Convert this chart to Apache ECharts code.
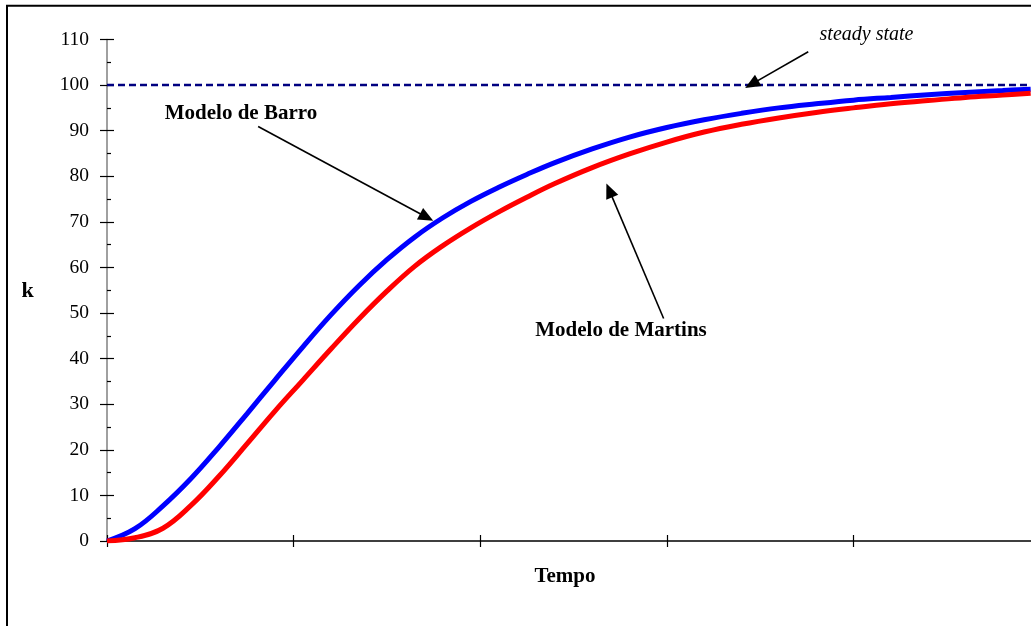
<!DOCTYPE html>
<html>
<head>
<meta charset="utf-8">
<script src="https://cdn.jsdelivr.net/npm/echarts@6/dist/echarts.min.js"></script>
<style>html,body{margin:0;padding:0;background:#fff;}#c{width:1031px;height:626px;}</style>
</head>
<body>
<div id="c"></div>
<script>
// Time (x, no tick labels in the original) and capital k
const tempo  = [0, 0.15, 0.3, 0.45, 0.6, 0.75, 0.9, 1.05, 1.2, 1.35, 1.5, 1.65, 1.8, 1.95, 2.1, 2.25, 2.4, 2.6, 2.8, 3.0, 3.2, 3.4, 3.6, 3.8, 4.0, 4.2, 4.4, 4.6, 4.8, 4.95];
const barro  = [0, 2.7, 7.7, 13.7, 20.6, 27.9, 35.3, 42.6, 49.6, 56.0, 61.7, 66.7, 70.9, 74.5, 77.6, 80.4, 83.0, 86.0, 88.6, 90.7, 92.4, 93.8, 95.0, 95.9, 96.7, 97.3, 97.9, 98.4, 98.8, 99.1];
const martins = [0, 0.7, 2.8, 7.8, 14.2, 21.3, 28.5, 35.3, 42.1, 48.7, 54.8, 60.3, 64.8, 68.7, 72.2, 75.4, 78.4, 81.9, 84.9, 87.5, 89.7, 91.4, 92.8, 94.0, 95.0, 95.9, 96.6, 97.3, 97.8, 98.2];
const steadyX = [0, 4.933];
const steadyValue = 100;
const yTicks = {min: 0, max: 110, interval: 10};
const xTicks = {min: 0, max: 5, interval: 1};

const pairs = (xs, ys) => xs.map((x, i) => [x, ys[i]]);
const serif = '"Liberation Serif", "Times New Roman", serif';

const chart = echarts.init(document.getElementById('c'), null, {renderer: 'canvas'});
const arrowStyle = {color: '#000', width: 1.6, type: 'solid'};
chart.setOption({
  animation: false,
  backgroundColor: '#fff',
  grid: {left: 107, right: -9, top: 39.5, bottom: 85, outerBoundsMode: 'none', containLabel: false},
  xAxis: [
    {type: 'value', min: xTicks.min, max: xTicks.max, interval: xTicks.interval, position: 'bottom',
     axisLine: {show: true, lineStyle: {color: '#000', width: 1.5}},
     axisTick: {show: true, inside: false, length: 6, lineStyle: {color: '#000', width: 1.2}},
     axisLabel: {show: false}, splitLine: {show: false}},
    {type: 'value', min: xTicks.min, max: xTicks.max, interval: xTicks.interval, position: 'bottom',
     axisLine: {show: false},
     axisTick: {show: true, inside: true, length: 6, lineStyle: {color: '#000', width: 1.2}},
     axisLabel: {show: false}, splitLine: {show: false}}
  ],
  yAxis: [
    {type: 'value', min: yTicks.min, max: yTicks.max, interval: yTicks.interval, position: 'left',
     axisLine: {show: true, lineStyle: {color: '#808080', width: 1.5}},
     axisTick: {show: true, inside: false, length: 7, lineStyle: {color: '#000', width: 1.2}},
     axisLabel: {show: true, margin: 18, color: '#000', fontFamily: serif, fontSize: 19.5},
     splitLine: {show: false}},
    {type: 'value', min: yTicks.min, max: yTicks.max, interval: yTicks.interval, position: 'left',
     axisLine: {show: false},
     axisTick: {show: true, inside: true, length: 7, lineStyle: {color: '#000', width: 1.2}},
     minorTick: {show: true, splitNumber: 2, length: 4, lineStyle: {color: '#000', width: 1.2}},
     axisLabel: {show: false}, splitLine: {show: false}}
  ],
  series: [
    {name: 'steady state', type: 'line', data: pairs(steadyX, steadyX.map(() => steadyValue)),
     showSymbol: false, symbol: 'none', silent: true,
     lineStyle: {color: '#000080', width: 2.5, type: [7, 4]},
     markLine: {
       silent: true, animation: false,
       symbolSize: [13, 15],
       label: {show: false},
       lineStyle: arrowStyle,
       data: [
         [{coord: [0.810, 90.9], symbol: 'none'}, {coord: [1.713, 71.0], symbol: 'triangle'}],
         [{coord: [2.983, 48.8], symbol: 'none'}, {coord: [2.692, 76.9], symbol: 'triangle'}],
         [{coord: [3.758, 107.3], symbol: 'none'}, {coord: [3.455, 100.2], symbol: 'triangle'}]
       ]
     }},
    {name: 'Modelo de Barro', type: 'line', smooth: 0.4, data: pairs(tempo, barro),
     symbol: 'none', lineStyle: {color: '#0000ff', width: 5}},
    {name: 'Modelo de Martins', type: 'line', smooth: 0.4, data: pairs(tempo, martins),
     symbol: 'none', lineStyle: {color: '#ff0000', width: 5}}
  ],
  graphic: [
    {type: 'rect', silent: true, shape: {x: 7, y: 5.7, width: 1300, height: 900},
     style: {fill: 'none', stroke: '#000', lineWidth: 2}},
    {type: 'text', silent: true, style: {text: 'k', x: 27.5, y: 291, align: 'center', verticalAlign: 'middle',
      font: 'bold 22px ' + serif, fill: '#000'}},
    {type: 'text', silent: true, style: {text: 'Tempo', x: 565, y: 577, align: 'center', verticalAlign: 'middle',
      font: 'bold 21px ' + serif, fill: '#000'}},
    {type: 'text', silent: true, style: {text: 'Modelo de Barro', x: 241, y: 114, align: 'center', verticalAlign: 'middle',
      font: 'bold 21px ' + serif, fill: '#000'}},
    {type: 'text', silent: true, style: {text: 'Modelo de Martins', x: 621, y: 331, align: 'center', verticalAlign: 'middle',
      font: 'bold 21px ' + serif, fill: '#000'}},
    {type: 'text', silent: true, style: {text: 'steady state', x: 866.5, y: 35, align: 'center', verticalAlign: 'middle',
      font: 'italic 20px ' + serif, fill: '#000'}}
  ]
});
</script>
</body>
</html>
